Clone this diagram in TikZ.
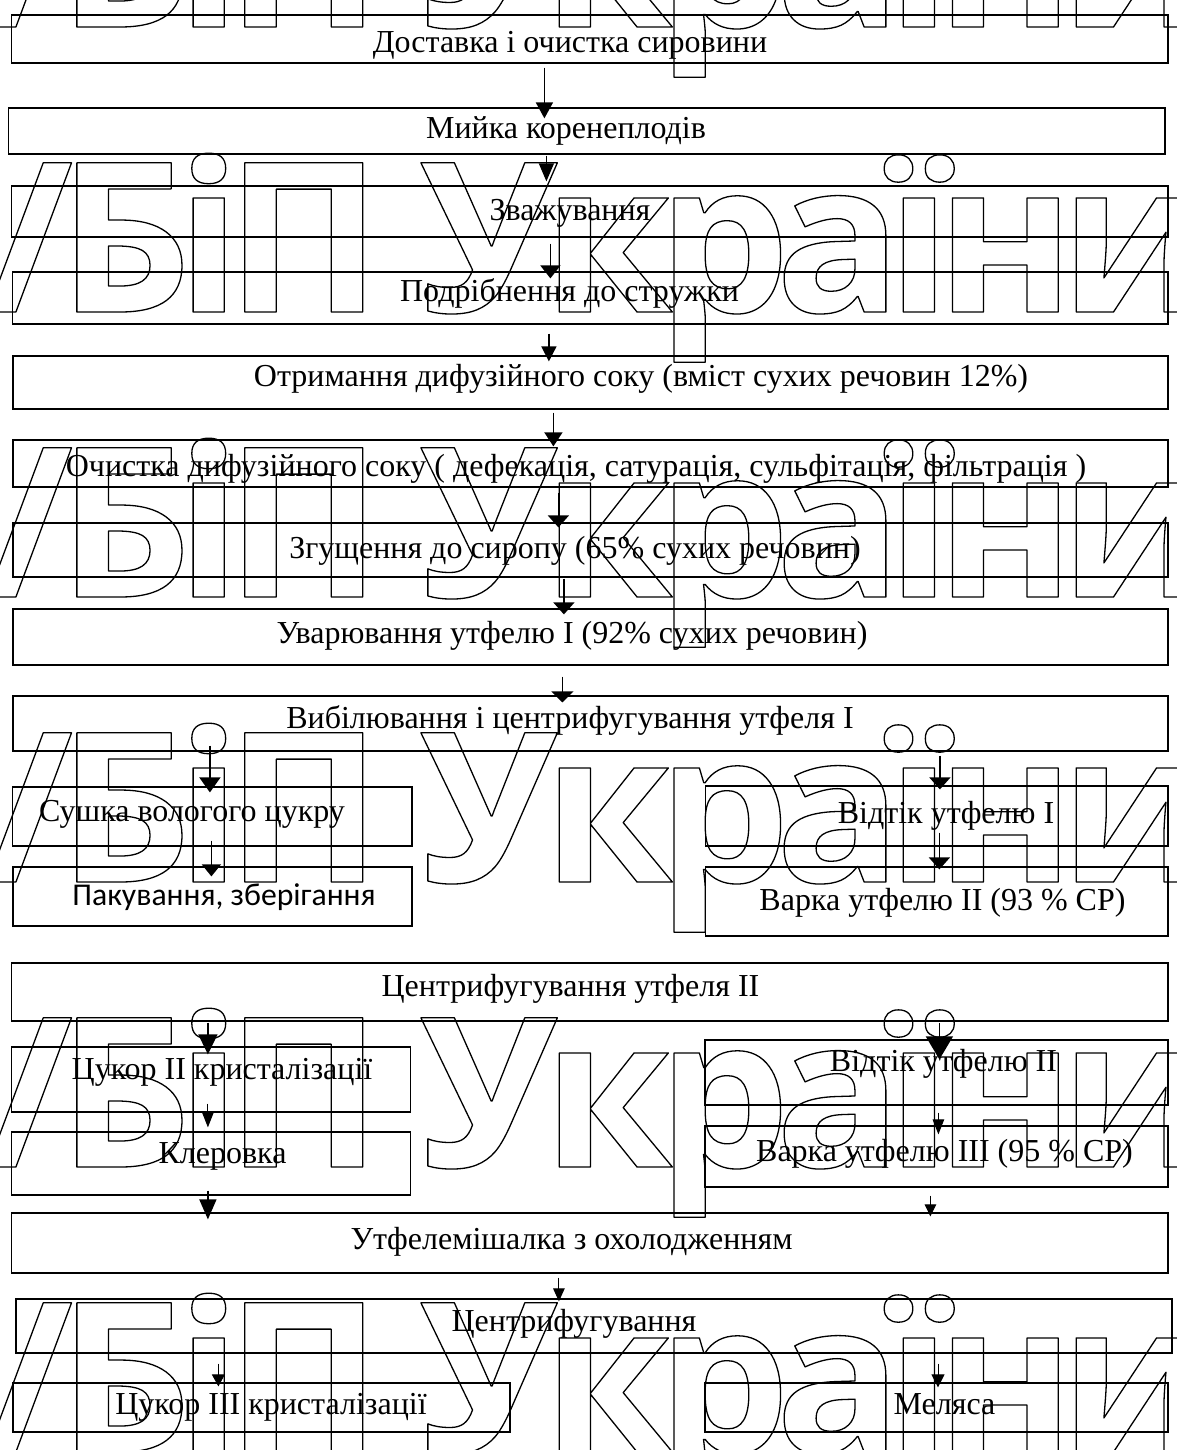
\documentclass[tikz,border=0pt]{standalone}
\usepackage{fontspec}
\setmainfont{Liberation Serif}
\newfontfamily\wmfont{Open Sans}[LetterSpace=-7]
\newfontfamily\calfont{Carlito}
\usetikzlibrary{arrows.meta,fit,calc}
\newcommand\outlinetext[1]{\special{pdf:literal direct 1 Tr 1.3 w 1 j}#1\special{pdf:literal direct 0 Tr}}
\begin{document}
\begin{tikzpicture}[x=1pt,y=-1pt,
  box/.style={draw, line width=1.2pt, inner sep=0pt},
  lbl/.style={font=\fontsize{32}{38}\selectfont, anchor=base, inner sep=0pt},
  lblsans/.style={font=\calfont\fontsize{31.7}{36}\selectfont, anchor=base, inner sep=0pt},
  wm/.style={font=\wmfont\bfseries\fontsize{209}{209}\selectfont, anchor=base west, inner sep=0pt},
  arr/.style n args={3}{line width=#3pt, -{Triangle[length=#1pt,width=#2pt]}}]
\useasboundingbox (0,0) rectangle (1177,1450);

% watermark
\foreach \yb [count=\i] in {27,312,597,882,1167,1452}
  \node[wm] (wm\i) at (-14,\yb) {\outlinetext{/БіП України}};

% boxes
\node[box, fit={(11.5,15) (1168,63)}] (b1) {};
\node[box, fit={(8.4,108) (1165,154)}] (b2) {};
\node[box, fit={(11.5,186) (1168,237)}] (b3) {};
\node[box, fit={(12.6,272) (1168,324)}] (b4) {};
\node[box, fit={(13,356) (1168,409)}] (b5) {};
\node[box, fit={(13,440) (1168,487)}] (b6) {};
\node[box, fit={(13,523) (1168,577)}] (b7) {};
\node[box, fit={(13,609) (1168,665)}] (b8) {};
\node[box, fit={(13,696) (1168,751)}] (b9) {};
\node[box, fit={(12.6,787) (412,846)}] (b10) {};
\node[box, fit={(13,867) (412,926)}] (b11) {};
\node[box, fit={(705.5,786) (1168,846)}] (b12) {};
\node[box, fit={(705.5,867) (1168,936)}] (b13) {};
\node[box, fit={(11.5,963) (1168,1021)}] (b14) {};
\node[box, fit={(11.5,1047) (410.6,1112)}] (b15) {};
\node[box, fit={(11.5,1132) (410.6,1195)}] (b16) {};
\node[box, fit={(705,1040) (1168,1105)}] (b17) {};
\node[box, fit={(705,1126) (1168,1187)}] (b18) {};
\node[box, fit={(11.5,1213) (1168,1273)}] (b19) {};
\node[box, fit={(16,1299) (1172,1353)}] (b20) {};
\node[box, fit={(13,1383) (510,1432)}] (b21) {};
\node[box, fit={(705,1383) (1168,1432)}] (b22) {};

% texts
\node[lbl] (t1) at (570,53) {Доставка і очистка сировини};
\node[lbl] (t2) at (566,139) {Мийка коренеплодів};
\node[lbl] (t3) at (570,220) {Зважування};
\node[lbl] (t4) at (569.5,301.7) {Подрібнення до стружки};
\node[lbl] (t5) at (641,386.7) {Отримання дифузійного соку (вміст сухих речовин 12\%)};
\node[lbl] (t6) at (576,476.7) {Очистка дифузійного соку ( дефекація, сатурація, сульфітація, фільтрація )};
\node[lbl] (t7) at (575,558) {Згущення до сиропу (65\% сухих речовин)};
\node[lbl] (t8) at (572,643) {Уварювання утфелю I (92\% сухих речовин)};
\node[lbl] (t9) at (570,728) {Вибілювання і центрифугування утфеля I};
\node[lbl] (t10) at (192,821.7) {Сушка вологого цукру};
\node[lblsans] (t11) at (224,905) {Пакування, зберігання};
\node[lbl] (t12) at (946,823) {Відтік утфелю I};
\node[lbl] (t13) at (942.5,910) {Варка утфелю II (93 \% СР)};
\node[lbl] (t14) at (570.5,996.7) {Центрифугування утфеля II};
\node[lbl] (t15) at (222,1079) {Цукор II кристалізації};
\node[lbl] (t16) at (222.5,1163) {Клеровка};
\node[lbl] (t17) at (943.5,1071.7) {Відтік утфелю II};
\node[lbl] (t18) at (944.5,1161.7) {Варка утфелю III (95 \% СР)};
\node[lbl] (t19) at (571.5,1249) {Утфелемішалка з охолодженням};
\node[lbl] (t20) at (574,1331.7) {Центрифугування};
\node[lbl] (t21) at (271,1414) {Цукор III кристалізації};
\node[lbl] (t22) at (944.5,1414) {Меляса};

% arrows
\draw[arr={16}{17}{1.5}] ($(b1.south west)+(533.5,4)$) -- ($(b2.north west)+(536.6,11)$);
\draw[arr={18}{15}{1.5}] ($(b2.south west)+(538.6,1)$) -- ($(b3.north west)+(535.5,-4)$);
\draw[arr={13}{20}{1.5}] ($(b3.south west)+(539.5,6)$) -- ($(b4.north west)+(538.4,7)$);
\draw[arr={15}{15}{1.5}] ($(b4.south west)+(536.9,9)$) -- ($(b5.north west)+(536.5,6)$);
\draw[arr={14}{18}{1.5}] ($(b5.south west)+(541,3)$) -- ($(b6.north west)+(541,7)$);
\draw[arr={12}{21}{1.5}] ($(b6.south west)+(546,5)$) -- ($(b7.north west)+(546,5)$);
\draw[arr={12}{21}{1.5}] ($(b7.south west)+(551.5,1)$) -- ($(b8.north west)+(551.5,6)$);
\draw[arr={11}{22}{1.5}] ($(b8.south west)+(550,11)$) -- ($(b9.north west)+(550,7)$);
\draw[arr={15}{21}{1.5}] ($(b9.south west)+(197.5,-6)$) -- ($(b10.north west)+(197.9,6)$);
\draw[arr={12}{19}{1.5}] ($(b10.south west)+(199.4,-6)$) -- ($(b11.north west)+(199,10)$);
\draw[arr={12}{21}{1.5}] ($(b9.south west)+(927.5,4)$) -- ($(b12.north west)+(235,4)$);
\draw[arr={12}{21}{1.5}] ($(b12.south west)+(234.5,-14)$) -- ($(b13.north west)+(234.5,3)$);
\draw[arr={20}{19}{1.5}] ($(b14.south west)+(197,1)$) -- ($(b15.north west)+(197,8)$);
\draw[arr={15}{11.5}{1}] ($(b15.south west)+(197,-9)$) -- ($(b16.north west)+(197,-4)$);
\draw[arr={20}{17}{1.5}] ($(b16.south west)+(197,-5)$) -- ($(b19.north west)+(197,7)$);
\draw[arr={23}{27}{1.5}] ($(b14.south west)+(928.5,1)$) -- ($(b17.north west)+(235,20)$);
\draw[arr={15}{11.5}{1}] ($(b17.south west)+(234,7)$) -- ($(b18.north west)+(234,9)$);
\draw[arr={12}{11.5}{1}] ($(b18.south west)+(226,8)$) -- ($(b19.north west)+(919.5,4)$);
\draw[arr={13}{11.5}{1}] ($(b19.south west)+(548,4)$) -- ($(b20.north west)+(543.5,3)$);
\draw[arr={12}{13}{1}] ($(b20.south west)+(203,10)$) -- ($(b21.north west)+(206,4)$);
\draw[arr={13}{13}{1}] ($(b20.south west)+(922.6,10)$) -- ($(b22.north west)+(233.6,5)$);
\end{tikzpicture}
\end{document}
